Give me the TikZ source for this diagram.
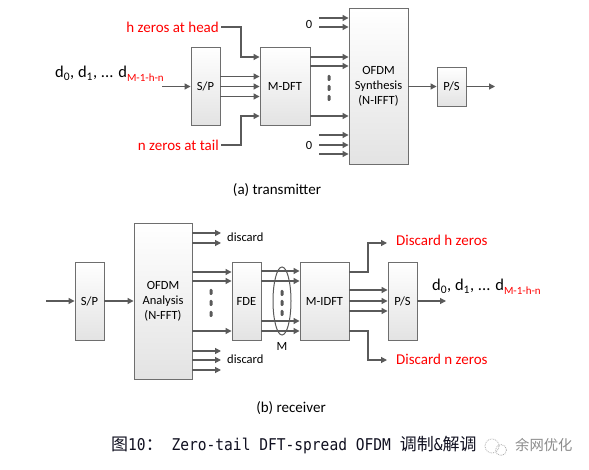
\documentclass[tikz,border=0pt]{standalone}
\usepackage{fontspec}
\setmainfont{Carlito}
\newfontfamily\cjkfont{Noto Sans CJK SC}
\newfontfamily\capmono[FakeStretch=0.9]{DejaVu Sans Mono}
\usetikzlibrary{arrows.meta,calc}
\definecolor{linec}{HTML}{5A5A5A}
\definecolor{boxc}{HTML}{6E6E6E}
\definecolor{redc}{HTML}{FF0000}
\definecolor{capc}{HTML}{101020}
\definecolor{wmc}{HTML}{8C8C8C}
\newcommand\cjkc{\cjkfont\fontsize{17}{20}\selectfont}
\newcommand\monoc{\capmono\fontsize{16.2}{20}\selectfont}
\begin{document}
\begin{tikzpicture}[x=1pt,y=-1pt,
  blk/.style={draw=boxc, line width=0.9pt, top color=white, bottom color=gray!22,
    inner sep=0pt, align=center, text=black, font=\fontsize{12.5}{15}\selectfont},
  arr/.style={draw=linec, line width=1.2pt, -{Triangle[length=6pt,width=6pt]}},
  redlab/.style={text=redc, inner sep=2pt, font=\fontsize{15}{18}\selectfont},
  lab/.style={text=black, inner sep=2pt, font=\fontsize{12.5}{15}\selectfont},
  captxt/.style={text=black, inner sep=0pt, font=\fontsize{15}{17}\selectfont},
  dlab/.style={anchor=base west, inner sep=0pt, font=\fontsize{16.5}{18}\selectfont},
  dotmark/.style={fill=linec, rounded corners=1.2pt}
]
\useasboundingbox (0,0) rectangle (589,470);
\fill[white] (0,0) rectangle (589,470);

% ---------------- transmitter ----------------
\node[blk, minimum width=29pt, minimum height=78pt] (sp1) at (205.5,86.5) {S/P};
\node[blk, minimum width=50pt, minimum height=78pt] (mdft) at (285,86.5) {M-DFT};
\node[blk, minimum width=59pt, minimum height=156pt] (ofdm1) at (378.5,86.5) {OFDM\\Synthesis\\(N-IFFT)};
\node[blk, minimum width=29pt, minimum height=39pt] (ps1) at (451.5,86.5) {P/S};

\node[dlab] (din) at (55,78)
  {d\textsubscript{0}, d\textsubscript{1}, ... d\raisebox{-3.5pt}{\fontsize{11}{12}\selectfont\color{redc}M-1-h-n}};
\coordinate (inA) at (162,86.5);
\draw[arr] (inA) -- (sp1.west);

\foreach \yy in {76.5,86.5,96.5} \draw[arr] (sp1.east |- 0,\yy) -- (mdft.west |- 0,\yy);

\node[redlab, anchor=east] (hz) at (221,27) {h zeros at head};
\draw[arr] (hz.east) -- (241,27) |- (mdft.west |- 0,57);
\node[redlab, anchor=east] (nz) at (221,145) {n zeros at tail};
\draw[arr] (nz.east) -- (241,145) |- (mdft.west |- 0,116);

\foreach \yy in {57,66,116} \draw[arr] (mdft.east |- 0,\yy) -- (ofdm1.west |- 0,\yy);
\foreach \yy in {78,88,98} \fill[dotmark] (327.5,\yy-3) rectangle (330.5,\yy+3);

\node[lab, anchor=center] (z1) at (309,24) {0};
\node[lab, anchor=center] (z2) at (309,145) {0};
\foreach \yy in {18,27} \draw[arr] (319,\yy) -- (ofdm1.west |- 0,\yy);
\foreach \yy in {135,145,154} \draw[arr] (319,\yy) -- (ofdm1.west |- 0,\yy);

\draw[arr] (ofdm1.east |- ps1.west) -- (ps1.west);
\coordinate (outA) at (495,86.5);
\draw[arr] (ps1.east) -- (outA);

\node[captxt] (capa) at (277,190) {(a) transmitter};

% ---------------- receiver ----------------
\node[blk, minimum width=29pt, minimum height=78pt] (sp2) at (89.5,301) {S/P};
\node[blk, minimum width=58pt, minimum height=156pt] (ofdm2) at (163,301) {OFDM\\Analysis\\(N-FFT)};
\node[blk, minimum width=29pt, minimum height=78pt] (fde) at (246.5,301) {FDE};
\node[blk, minimum width=49pt, minimum height=78pt] (midft) at (324.5,301) {M-IDFT};
\node[blk, minimum width=29pt, minimum height=78pt] (ps2) at (402.5,301) {P/S};

\coordinate (inB) at (46,301);
\draw[arr] (inB) -- (sp2.west);
\draw[arr] (sp2.east) -- (ofdm2.west |- sp2.east);

\foreach \yy in {233,243} \draw[arr] (ofdm2.east |- 0,\yy) -- (221,\yy);
\node[lab, anchor=west] (disc1) at (225,237) {discard};
\foreach \yy in {351,360,370} \draw[arr] (ofdm2.east |- 0,\yy) -- (221,\yy);
\node[lab, anchor=west] (disc2) at (225,359) {discard};

\foreach \yy in {272,281,331} \draw[arr] (ofdm2.east |- 0,\yy) -- (fde.west |- 0,\yy);
\foreach \yy in {292,303,314} \fill[dotmark] (209.5,\yy-3) rectangle (212.5,\yy+3);

\foreach \yy in {271,281,321,331} \draw[arr] (fde.east |- 0,\yy) -- (midft.west |- 0,\yy);
\draw[linec, line width=1pt] (282,301) ellipse [x radius=9, y radius=34];
\foreach \yy in {293,303,313} \fill[dotmark] (280.5,\yy-3) rectangle (283.5,\yy+3);
\node[lab] (mlab) at (282,346) {M};

\draw[arr] (midft.east |- 0,272) -- (368,272) |- (387,243);
\node[redlab, anchor=west] (dh) at (394,240) {Discard h zeros};
\draw[arr] (midft.east |- 0,331) -- (368,331) |- (387,360);
\node[redlab, anchor=west] (dn) at (394,359) {Discard n zeros};

\foreach \yy in {290,301,311} \draw[arr] (midft.east |- 0,\yy) -- (ps2.west |- 0,\yy);
\coordinate (outB) at (446,301);
\draw[arr] (ps2.east) -- (outB);
\node[dlab] (dout) at (432,291)
  {d\textsubscript{0}, d\textsubscript{1}, ... d\raisebox{-3.5pt}{\fontsize{11}{12}\selectfont\color{redc}M-1-h-n}};

\node[captxt] (capb) at (291,408) {(b) receiver};

% ---------------- caption ----------------
\node[anchor=west, inner sep=0pt, text=capc] (figcap) at (111,445)
  {{\cjkc 图}{\monoc 10}{\cjkc ：}{\monoc\ Zero-tail DFT-spread OFDM\ }{\cjkc 调制}{\monoc\&}{\cjkc 解调}};
\draw[wmc!70, densely dotted, line width=0.8pt] (492,446) circle (7);
\draw[wmc!70, densely dotted, line width=0.8pt] (501,450) circle (5.5);
\node[anchor=west, inner sep=0pt, text=wmc, font=\cjkfont\fontsize{14.3}{16}\selectfont] (wm) at (515,445) {余网优化};
\end{tikzpicture}
\end{document}
